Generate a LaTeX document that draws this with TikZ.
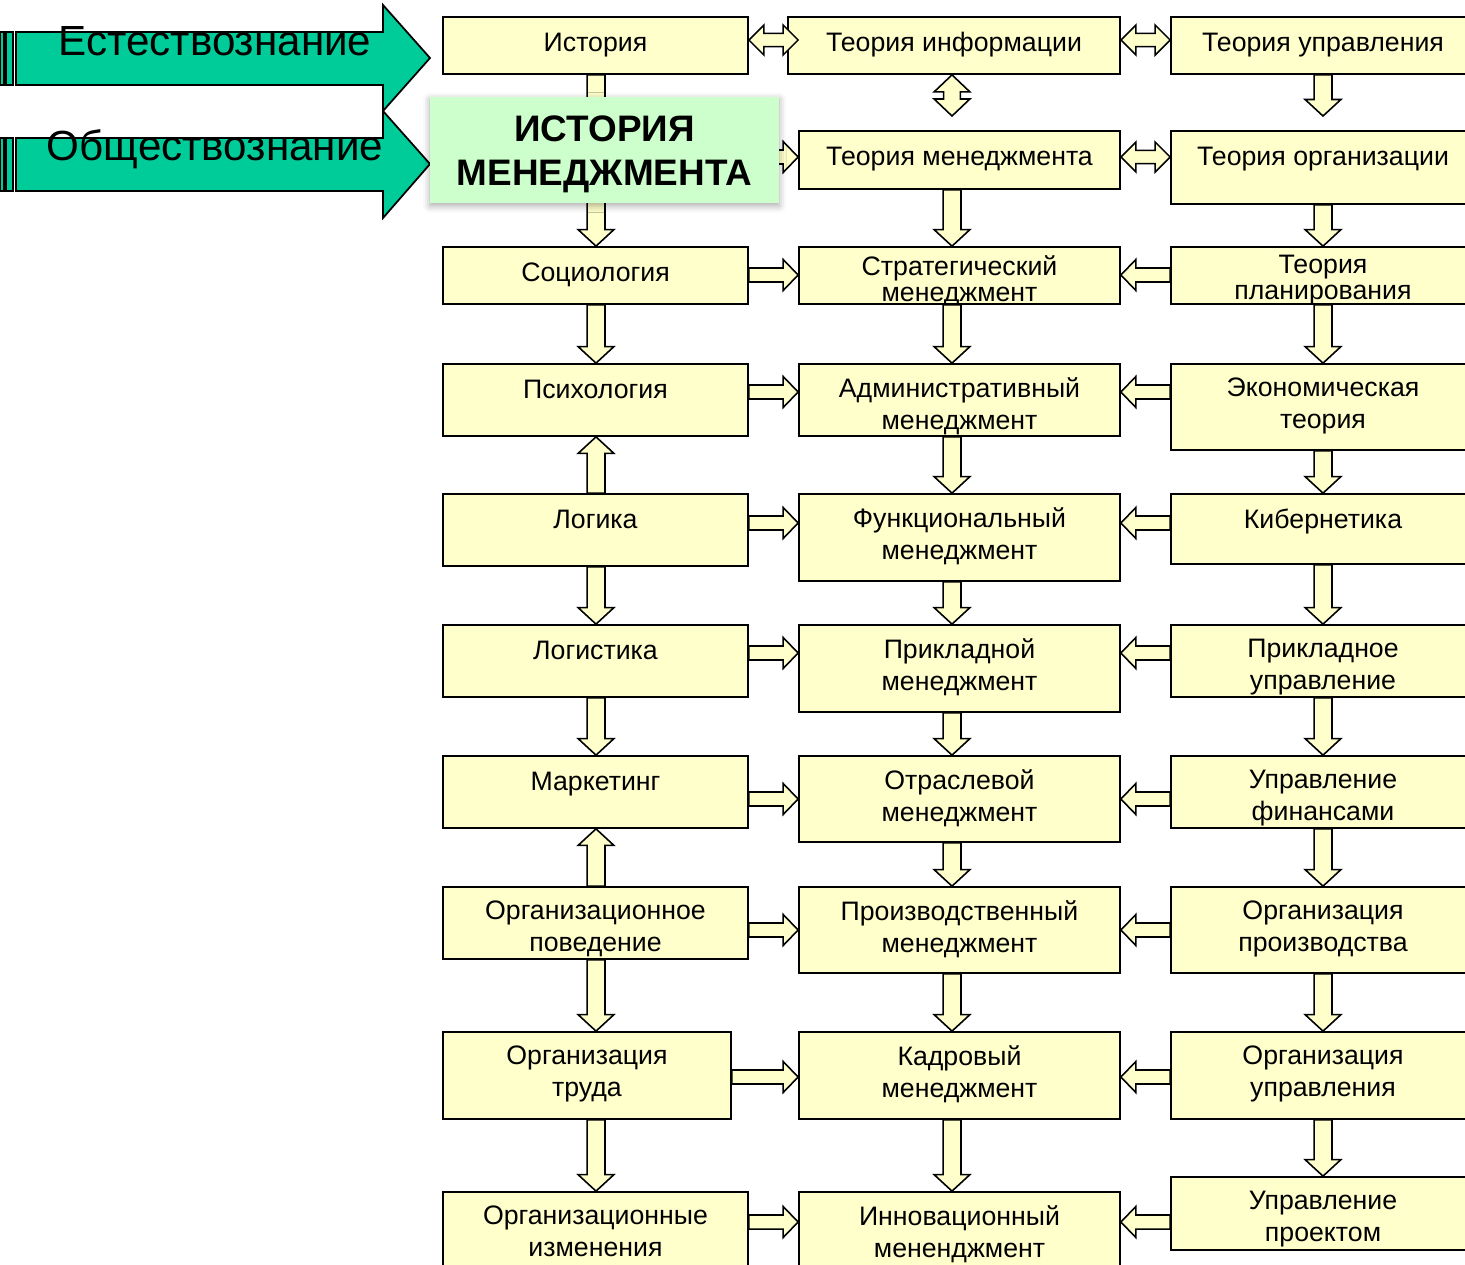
\documentclass[tikz,border=0pt]{standalone}
\usepackage{fontspec}
\setmainfont{Liberation Sans}
\usetikzlibrary{calc, shadows.blur}
\definecolor{yel}{HTML}{FFFFCC}
\definecolor{mint}{HTML}{CCFFCC}
\definecolor{sea}{HTML}{00CC99}
\begin{document}
\begin{tikzpicture}[x=0.02cm, y=-0.02cm,
    blk/.style={draw, fill=yel, line width=1pt, inner sep=0pt},
    lbl/.style={anchor=north, align=center, inner sep=0pt, font=\fontsize{15.2}{18.2}\selectfont, execute at begin node=\strut},
    two/.style={yshift=-0.03cm},
    tight/.style={font=\fontsize{15.2}{14.8}\selectfont, yshift=0.08cm},
    barr/.style n args={3}{draw, fill=yel, line width=0.9pt,
        to path={let \p1=(\tikztostart), \p2=(\tikztotarget),
            \n1={veclen(\x2-\x1,\y2-\y1)}, \n2={(\x2-\x1)/\n1}, \n3={(\y2-\y1)/\n1} in
            ({\x1-\n3*#1},{\y1+\n2*#1}) -- ({\x2-\n2*#3-\n3*#1},{\y2-\n3*#3+\n2*#1})
            -- ({\x2-\n2*#3-\n3*#2},{\y2-\n3*#3+\n2*#2}) -- (\p2)
            -- ({\x2-\n2*#3+\n3*#2},{\y2-\n3*#3-\n2*#2}) -- ({\x2-\n2*#3+\n3*#1},{\y2-\n3*#3-\n2*#1})
            -- ({\x1+\n3*#1},{\y1-\n2*#1}) -- cycle}},
    dbarr/.style n args={3}{draw, fill=yel, line width=0.9pt,
        to path={let \p1=(\tikztostart), \p2=(\tikztotarget),
            \n1={veclen(\x2-\x1,\y2-\y1)}, \n2={(\x2-\x1)/\n1}, \n3={(\y2-\y1)/\n1} in
            (\p1) -- ({\x1+\n2*#3-\n3*#2},{\y1+\n3*#3+\n2*#2}) -- ({\x1+\n2*#3-\n3*#1},{\y1+\n3*#3+\n2*#1})
            -- ({\x2-\n2*#3-\n3*#1},{\y2-\n3*#3+\n2*#1}) -- ({\x2-\n2*#3-\n3*#2},{\y2-\n3*#3+\n2*#2})
            -- (\p2) -- ({\x2-\n2*#3+\n3*#2},{\y2-\n3*#3-\n2*#2}) -- ({\x2-\n2*#3+\n3*#1},{\y2-\n3*#3-\n2*#1})
            -- ({\x1+\n2*#3+\n3*#1},{\y1+\n3*#3-\n2*#1}) -- ({\x1+\n2*#3+\n3*#2},{\y1+\n3*#3-\n2*#2}) -- cycle}},
    harr/.style={barr={4.0}{8.8}{8.5}},
    varr/.style={barr={5.1}{10.2}{9.4}},
    hdarr/.style={dbarr={3.8}{8.5}{8.5}},
    vdarr/.style={dbarr={4.8}{10.2}{9.7}},
    bigarr/.style={draw, fill=sea, line width=1pt},
    hbox/.style={fill=mint, inner sep=0pt,
        blur shadow={shadow xshift=0pt, shadow yshift=-1.5pt, shadow blur radius=4pt, shadow opacity=35}},
    htxt/.style={align=center, inner sep=0pt, font=\fontsize{21}{25}\selectfont\bfseries}]
  \useasboundingbox (0,0) rectangle (1465,1265);

  \foreach \nm/\xa/\ya/\xb/\yb/\txt/\opt in {
      ist/443/17/748/74/{История}/{},
      tinf/788/17/1120/74/{Теория информации}/{},
      tupr/1171/17/1475/74/{Теория управления}/{},
      tmen/799/131/1120/189/{Теория менеджмента}/{},
      torg/1171/131/1475/204/{Теория организации}/{},
      soc/443/247/748/304/{Социология}/{},
      str/799/247/1120/304/{Стратегический\\менеджмент}/{tight},
      tpl/1171/247/1475/304/{Теория\\планирования}/{tight},
      psy/443/364/748/436/{Психология}/{},
      adm/799/364/1120/436/{Административный\\менеджмент}/{two},
      eco/1171/364/1475/450/{Экономическая\\теория}/{two},
      log/443/494/748/566/{Логика}/{},
      fun/799/494/1120/581/{Функциональный\\менеджмент}/{two},
      kib/1171/494/1475/564/{Кибернетика}/{},
      lgs/443/625/748/697/{Логистика}/{},
      pm/799/625/1120/712/{Прикладной\\менеджмент}/{two},
      pu/1171/625/1475/697/{Прикладное\\управление}/{two},
      mkt/443/756/748/828/{Маркетинг}/{},
      otm/799/756/1120/842/{Отраслевой\\менеджмент}/{two},
      ufin/1171/756/1475/828/{Управление\\финансами}/{two},
      opv/443/887/748/959/{Организационное\\поведение}/{two},
      prm/799/887/1120/973/{Производственный\\менеджмент}/{two},
      oprz/1171/887/1475/973/{Организация\\производства}/{two},
      otr/443/1032/731/1119/{Организация\\труда}/{two},
      kad/799/1032/1120/1119/{Кадровый\\менеджмент}/{two},
      oupr/1171/1032/1475/1119/{Организация\\управления}/{two},
      oiz/443/1192/748/1275/{Организационные\\изменения}/{two},
      inn/799/1192/1120/1275/{Инновационный\\мененджмент}/{two},
      uprj/1171/1177/1475/1250/{Управление\\проектом}/{two}}{
    \node[blk, minimum width={(\xb-\xa)*0.02cm}, minimum height={(\yb-\ya)*0.02cm}]
      (\nm) at ({(\xa+\xb)/2},{(\ya+\yb)/2}) {};
    \node[lbl, \opt] (\nm-t) at ({(\xa+\xb)/2},{\ya+12}) {\txt};
  }

  \coordinate (c1) at (596,0);
  \coordinate (c2) at (952,0);
  \coordinate (c3) at (1323,0);
  \foreach \r/\y in {r1/40, r2/157, r3/275, r4/392, r5/523, r6/653, r7/799, r8/930, r9/1077, r10/1222}
    \coordinate (\r) at (0,\y);
  \coordinate (tmtop) at (952,116);
  \coordinate (torgtop) at (1323,116);

  \foreach \a/\b/\c in {ist/soc/c1, soc/psy/c1, log/lgs/c1, lgs/mkt/c1, opv/otr/c1, otr/oiz/c1,
      tmen/str/c2, str/adm/c2, adm/fun/c2, fun/pm/c2, pm/otm/c2, otm/prm/c2, prm/kad/c2, kad/inn/c2,
      torg/tpl/c3, tpl/eco/c3, eco/kib/c3, kib/pu/c3, pu/ufin/c3, ufin/oprz/c3, oprz/oupr/c3, oupr/uprj/c3}
    \draw[varr] (\a.south -| \c) to (\b.north -| \c);
  \foreach \a/\b in {log/psy, opv/mkt}
    \draw[varr] (\a.north -| c1) to (\b.south -| c1);
  \draw[varr] (tupr.south -| c3) to (torgtop);
  \draw[vdarr] (tinf.south -| c2) to (tmtop);

  \foreach \a/\b/\r in {soc/str/r3, psy/adm/r4, log/fun/r5, lgs/pm/r6, mkt/otm/r7, opv/prm/r8, otr/kad/r9, oiz/inn/r10}
    \draw[harr] (\a.east |- \r) to (\b.west |- \r);
  \foreach \a/\b/\r in {tpl/str/r3, eco/adm/r4, kib/fun/r5, pu/pm/r6, ufin/otm/r7, oprz/prm/r8, oupr/kad/r9, uprj/inn/r10}
    \draw[harr] (\a.west |- \r) to (\b.east |- \r);
  \draw[harr] (ist.east |- r2) to (tmen.west |- r2);
  \draw[hdarr] (ist.east |- r1) to (tmen.west |- r1);
  \draw[hdarr] (tinf.east |- r1) to (tupr.west |- r1);
  \draw[hdarr] (tmen.east |- r2) to (torg.west |- r2);

  \draw[bigarr] (0,32) rectangle (4,85);
  \draw[bigarr] (6,32) rectangle (13,85);
  \draw[bigarr] (16,32) -- (383,32) -- (383,5) -- (430,58) -- (383,111) -- (383,85) -- (16,85) -- cycle;
  \node[anchor=base, font=\fontsize{24}{28}\selectfont] (est) at (215,55) {Естествознание};
  \draw[bigarr] (0,138) rectangle (4,191);
  \draw[bigarr] (6,138) rectangle (13,191);
  \draw[bigarr] (16,138) -- (383,138) -- (383,111) -- (430,164) -- (383,218) -- (383,191) -- (16,191) -- cycle;
  \node[anchor=base, font=\fontsize{24}{28}\selectfont] (obs) at (215,160) {Обществознание};

  \node[hbox, minimum width=6.98cm, minimum height=2.12cm] (hist) at (604.5,150) {};
  \node[htxt] (hist-t) at (604.5,154) {ИСТОРИЯ\\МЕНЕДЖМЕНТА};
\end{tikzpicture}
\end{document}
